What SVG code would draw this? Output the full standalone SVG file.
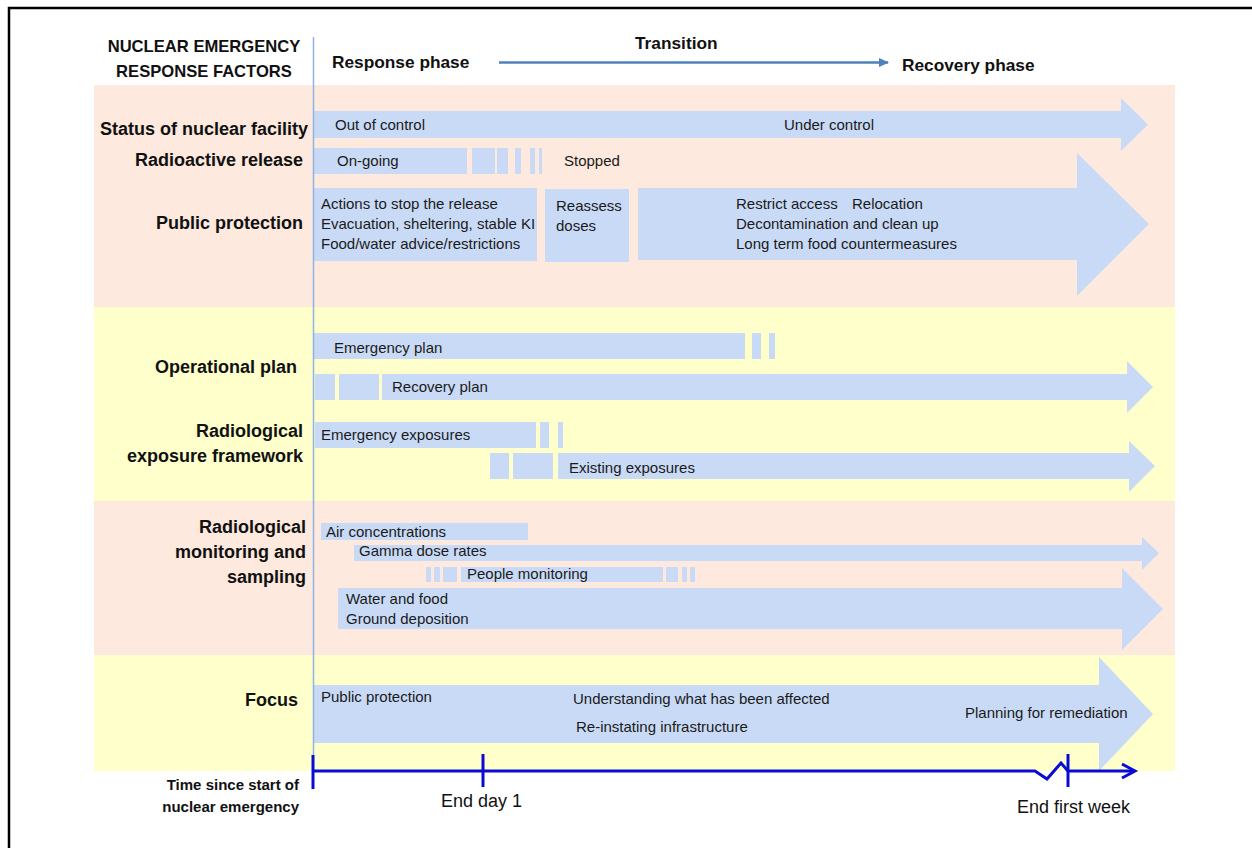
<svg xmlns="http://www.w3.org/2000/svg" width="1252" height="848" viewBox="0 0 1252 848">
<defs>
<style>
.bg{fill:#ffffff}
.peach{fill:#FDE9DD}
.yellow{fill:#FFFFCC}
.bar{fill:#C9DAF6}
.lbl{font-family:"Liberation Sans",Arial,sans-serif;font-weight:bold;font-size:18px;fill:#111;text-anchor:end}
.sm{font-size:15px}
.hdr{font-family:"Liberation Sans",Arial,sans-serif;font-weight:bold;font-size:17.3px;fill:#111}
.hdr2{font-size:16.6px;text-anchor:middle}
.txt{font-family:"Liberation Sans",Arial,sans-serif;font-size:15px;fill:#1a1a1a}
.tl{font-family:"Liberation Sans",Arial,sans-serif;font-size:18px;fill:#111}
.tline{stroke:#0A0AD6;stroke-width:3;fill:none}
</style>
<marker id="trArrow" markerWidth="10" markerHeight="10" refX="9" refY="5" orient="auto" markerUnits="userSpaceOnUse">
<path d="M0,0.5 L10,5 L0,9.5 Z" fill="#4F81BD"/>
</marker>
</defs>
<rect class="bg" x="0" y="0" width="1252" height="848"/>
<path d="M9,848 V8 H1252" stroke="#000" stroke-width="2.5" fill="none"/>

<g id="bands">
<rect class="peach" x="94" y="85" width="1081" height="222"/>
<rect class="yellow" x="94" y="307" width="1081" height="194"/>
<rect class="peach" x="94" y="501" width="1081" height="154"/>
<rect class="yellow" x="94" y="655" width="1081" height="116"/>
</g>

<g id="header">
<text class="hdr hdr2" x="204" y="52">NUCLEAR EMERGENCY</text>
<text class="hdr hdr2" x="204" y="77">RESPONSE FACTORS</text>
<text class="hdr" x="332" y="68">Response phase</text>
<text class="hdr" x="635" y="49">Transition</text>
<text class="hdr" x="902" y="71">Recovery phase</text>
</g>

<g id="status-facility">
<text class="lbl" x="308" y="135">Status of nuclear facility</text>
<path class="bar" d="M313,111 H1121 V98 L1148,124.5 L1121,151 V138 H313 Z"/>
<text class="txt" x="335" y="130">Out of control</text>
<text class="txt" x="784" y="130">Under control</text>
</g>

<g id="radioactive-release">
<text class="lbl" x="303" y="166">Radioactive release</text>
<rect class="bar" x="313" y="148" width="154" height="26"/>
<rect class="bar" x="472" y="148" width="23" height="26"/>
<rect class="bar" x="497" y="148" width="11" height="26"/>
<rect class="bar" x="515" y="148" width="6" height="26"/>
<rect class="bar" x="530" y="148" width="5" height="26"/>
<rect class="bar" x="539" y="148" width="3" height="26"/>
<text class="txt" x="337" y="166">On-going</text>
<text class="txt" x="564" y="166">Stopped</text>
</g>

<g id="public-protection">
<text class="lbl" x="303" y="229">Public protection</text>
<rect class="bar" x="313" y="188" width="224" height="73"/>
<text class="txt" x="321" y="209">Actions to stop the release</text>
<text class="txt" x="321" y="229">Evacuation, sheltering, stable KI</text>
<text class="txt" x="321" y="249">Food/water advice/restrictions</text>
<rect class="bar" x="545" y="189" width="84" height="73"/>
<text class="txt" x="556" y="211">Reassess</text>
<text class="txt" x="556" y="231">doses</text>
<path class="bar" d="M638,188 H1077 V153 L1149,224 L1077,296 V260 H638 Z"/>
<text class="txt" x="736" y="209">Restrict access</text>
<text class="txt" x="852" y="209">Relocation</text>
<text class="txt" x="736" y="229">Decontamination and clean up</text>
<text class="txt" x="736" y="249">Long term food countermeasures</text>
</g>

<g id="operational-plan">
<text class="lbl" x="297" y="373">Operational plan</text>
<rect class="bar" x="314" y="333" width="431" height="26"/>
<rect class="bar" x="752" y="333" width="9" height="26"/>
<rect class="bar" x="769" y="333" width="6" height="26"/>
<text class="txt" x="334" y="353">Emergency plan</text>
<rect class="bar" x="315" y="374" width="20" height="26"/>
<rect class="bar" x="339" y="374" width="40" height="26"/>
<path class="bar" d="M382,374 H1127 V361 L1153,387 L1127,413 V400 H382 Z"/>
<text class="txt" x="392" y="392">Recovery plan</text>
</g>

<g id="exposure-framework">
<text class="lbl" x="303" y="437">Radiological</text>
<text class="lbl" x="303" y="462">exposure framework</text>
<rect class="bar" x="315" y="422" width="221" height="26"/>
<rect class="bar" x="540" y="422" width="9" height="26"/>
<rect class="bar" x="558" y="422" width="5" height="26"/>
<text class="txt" x="321" y="440">Emergency exposures</text>
<rect class="bar" x="490" y="453" width="19" height="26"/>
<rect class="bar" x="513" y="453" width="40" height="26"/>
<path class="bar" d="M558,453 H1129 V441 L1155,466 L1129,492 V479 H558 Z"/>
<text class="txt" x="569" y="473">Existing exposures</text>
</g>

<g id="monitoring-sampling">
<text class="lbl" x="306" y="533">Radiological</text>
<text class="lbl" x="306" y="558">monitoring and</text>
<text class="lbl" x="306" y="583">sampling</text>
<rect class="bar" x="321" y="523" width="207" height="17"/>
<text class="txt" x="326" y="537">Air concentrations</text>
<path class="bar" d="M354,545 H1142 V537 L1159,553 L1142,570 V561 H354 Z"/>
<text class="txt" x="359" y="556">Gamma dose rates</text>
<rect class="bar" x="426" y="567" width="5" height="15"/>
<rect class="bar" x="434" y="567" width="6" height="15"/>
<rect class="bar" x="443" y="567" width="14" height="15"/>
<rect class="bar" x="461" y="567" width="202" height="15"/>
<rect class="bar" x="666" y="567" width="12" height="15"/>
<rect class="bar" x="682" y="567" width="5" height="15"/>
<rect class="bar" x="690" y="567" width="5" height="15"/>
<text class="txt" x="467" y="579">People monitoring</text>
<path class="bar" d="M338,588 H1122 V568 L1163,609 L1122,650 V629 H338 Z"/>
<text class="txt" x="346" y="604">Water and food</text>
<text class="txt" x="346" y="624">Ground deposition</text>
</g>

<g id="focus">
<text class="lbl" x="298" y="706">Focus</text>
<path class="bar" d="M313,685 H1099 V657 L1153,714 L1099,771 V743 H313 Z"/>
<text class="txt" x="321" y="702">Public protection</text>
<text class="txt" x="573" y="704">Understanding what has been affected</text>
<text class="txt" x="576" y="732">Re-instating infrastructure</text>
<text class="txt" x="965" y="718">Planning for remediation</text>
</g>

<g id="time-axis-label">
<text class="lbl sm" x="299" y="790">Time since start of</text>
<text class="lbl sm" x="299" y="812">nuclear emergency</text>
<text class="tl" x="441" y="807">End day 1</text>
<text class="tl" x="1017" y="813">End first week</text>
</g>

<g id="connectors">
<line x1="313.5" y1="37" x2="313.5" y2="756" stroke="#8EB4E3" stroke-width="1.5"/>
<line x1="499" y1="62.5" x2="888" y2="62.5" stroke="#4F81BD" stroke-width="2.5" marker-end="url(#trArrow)"/>
<polyline class="tline" points="313,771 1035,771 1047,779 1061,763 1068,771 1134,771"/>
<polyline class="tline" points="1122,764 1135,771 1122,778"/>
<line class="tline" x1="313" y1="755" x2="313" y2="789"/>
<line class="tline" x1="483" y1="754" x2="483" y2="787"/>
<line class="tline" x1="1068" y1="754" x2="1068" y2="787"/>
</g>
</svg>
